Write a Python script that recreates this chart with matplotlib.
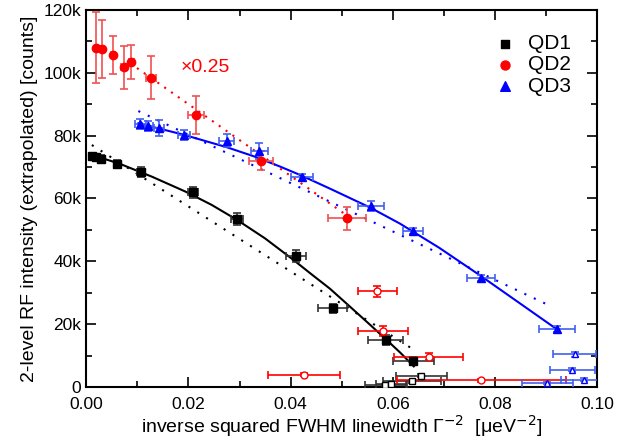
import matplotlib
matplotlib.use("Agg")
import matplotlib.pyplot as plt
from matplotlib.ticker import MultipleLocator, FuncFormatter

plt.rcParams["font.family"] = ["Liberation Sans", "DejaVu Sans"]
plt.rcParams["axes.unicode_minus"] = False

# ---- data (intensity in counts, x in ueV^-2) ----
# QD1 filled
qd1_x    = [0.0011, 0.0020, 0.0029, 0.0060, 0.0107, 0.0209, 0.0295, 0.0410, 0.0482, 0.0586, 0.0640]
qd1_y    = [73.5e3, 73.2e3, 72.6e3, 71.0e3, 68.4e3, 62.0e3, 53.5e3, 41.7e3, 25.1e3, 15.0e3, 8.3e3]
qd1_xerr = [0.0004, 0.0004, 0.0005, 0.0006, 0.0008, 0.0010, 0.0012, 0.0020, 0.0029, 0.0034, 0.0040]
qd1_yerr = [1.0e3, 1.0e3, 1.2e3, 1.2e3, 1.5e3, 1.8e3, 1.8e3, 2.0e3, 1.5e3, 1.5e3, 1.2e3]
# QD1 open
qd1o_x    = [0.0585, 0.0597, 0.0637, 0.0656]
qd1o_y    = [0.6e3, 1.0e3, 1.9e3, 3.6e3]
qd1o_xerr = [0.0040, 0.0030, 0.0057, 0.0050]
qd1o_yerr = [0.3e3, 0.3e3, 0.5e3, 0.5e3]

# QD2 filled (scaled x0.25)
qd2_x    = [0.0020, 0.0031, 0.0052, 0.0073, 0.0088, 0.0127, 0.0215, 0.0342, 0.0511]
qd2_y    = [108.0e3, 107.5e3, 105.7e3, 101.7e3, 103.4e3, 98.4e3, 86.6e3, 72.0e3, 53.7e3]
qd2_xerr = [0.0003, 0.0003, 0.0004, 0.0004, 0.0005, 0.0010, 0.0015, 0.0023, 0.0037]
qd2_yerr = [11.4e3, 9.3e3, 6.0e3, 6.9e3, 5.4e3, 6.9e3, 6.0e3, 3.0e3, 3.7e3]
# QD2 open
qd2o_x    = [0.0426, 0.0570, 0.0580, 0.0670, 0.0773]
qd2o_y    = [4.0e3, 30.5e3, 17.8e3, 9.7e3, 2.2e3]
qd2o_xerr = [0.0070, 0.0039, 0.0049, 0.0068, 0.0165]
qd2o_yerr = [0.5e3, 1.8e3, 1.5e3, 1.2e3, 0.5e3]

# QD3 filled
qd3_x    = [0.0106, 0.0120, 0.0142, 0.0192, 0.0275, 0.0339, 0.0422, 0.0557, 0.0639, 0.0773, 0.0921]
qd3_y    = [83.7e3, 83.1e3, 82.3e3, 80.2e3, 78.4e3, 75.2e3, 66.7e3, 57.6e3, 49.7e3, 34.8e3, 18.4e3]
qd3_xerr = [0.0010, 0.0010, 0.0010, 0.0012, 0.0015, 0.0017, 0.0022, 0.0025, 0.0020, 0.0027, 0.0035]
qd3_yerr = [1.5e3, 1.5e3, 2.5e3, 1.5e3, 2.0e3, 2.5e3, 1.2e3, 1.5e3, 1.0e3, 1.0e3, 1.0e3]
# QD3 open
qd3o_x    = [0.0902, 0.0951, 0.0956, 0.0975]
qd3o_y    = [1.2e3, 5.6e3, 10.4e3, 2.4e3]
qd3o_xerr = [0.0050, 0.0044, 0.0042, 0.0045]
qd3o_yerr = [0.3e3, 0.5e3, 0.8e3, 0.5e3]

# fit curves
fit1_x = [0.0011, 0.0063, 0.0129, 0.0194, 0.0245, 0.0295, 0.0350, 0.0406, 0.0440, 0.0477,
          0.0523, 0.0555, 0.0588, 0.0615, 0.0641]
fit1_y = [73.8e3, 71.2e3, 66.9e3, 62.2e3, 58.0e3, 53.2e3, 47.3e3, 40.4e3, 36.0e3, 31.3e3,
          24.6e3, 19.9e3, 15.0e3, 10.9e3, 6.6e3]
lin1_x = [0.0011, 0.0640]
lin1_y = [77.0e3, 12.0e3]

lin2_x = [0.0086, 0.0511]
lin2_y = [103.0e3, 54.5e3]

fit3_x = [0.0102, 0.0190, 0.0275, 0.0330, 0.0380, 0.0421, 0.0480, 0.0557, 0.0614, 0.0690,
          0.0771, 0.0850, 0.0921]
fit3_y = [83.9e3, 80.3e3, 76.3e3, 73.3e3, 70.1e3, 67.3e3, 62.9e3, 57.0e3, 52.0e3, 44.4e3,
          35.5e3, 26.5e3, 18.4e3]
lin3_x = [0.0102, 0.0911]
lin3_y = [87.8e3, 25.6e3]

# ---- plot ----
fig = plt.figure(figsize=(6.34, 4.45), dpi=100)
ax = fig.add_axes([0.136, 0.130, 0.806, 0.848])

eb = dict(linestyle="none", elinewidth=1.2, capsize=3, capthick=1.2)

# QD1
ax.errorbar(qd1_x, qd1_y, xerr=qd1_xerr, yerr=qd1_yerr, marker="s", ms=5.5,
            color="black", ecolor="#333333", **eb, zorder=4)
ax.errorbar(qd1o_x, qd1o_y, xerr=qd1o_xerr, yerr=qd1o_yerr, marker="s", ms=5,
            color="black", mfc="white", ecolor="#333333", **eb, zorder=4)
ax.plot(fit1_x, fit1_y, color="black", lw=1.5, zorder=3)
ax.plot(lin1_x, lin1_y, color="black", lw=1.5, ls=(0, (1, 4)), zorder=3)

# QD2
ax.errorbar(qd2_x, qd2_y, xerr=qd2_xerr, yerr=qd2_yerr, marker="o", ms=6,
            color="red", ecolor="#f05050", **eb, zorder=4)
ax.errorbar(qd2o_x, qd2o_y, xerr=qd2o_xerr, yerr=qd2o_yerr, marker="o", ms=5,
            color="red", mfc="white", ecolor="red", **eb, zorder=4)
ax.plot(lin2_x, lin2_y, color="red", lw=1.5, ls=(0, (1, 3)), zorder=3)

# QD3
ax.errorbar(qd3_x, qd3_y, xerr=qd3_xerr, yerr=qd3_yerr, marker="^", ms=6,
            color="blue", ecolor="#4060f0", **eb, zorder=4)
ax.errorbar(qd3o_x, qd3o_y, xerr=qd3o_xerr, yerr=qd3o_yerr, marker="^", ms=5,
            color="blue", mfc="white", ecolor="#4060f0", **eb, zorder=4)
ax.plot(fit3_x, fit3_y, color="blue", lw=1.5, zorder=3)
ax.plot(lin3_x, lin3_y, color="blue", lw=1.5, ls=(0, (1, 4)), zorder=3)

ax.text(0.0184, 101.8e3, "×0.25", color="red", fontsize=14, va="center")

# legend
h1 = ax.scatter([], [], marker="s", color="black", s=36)
h2 = ax.scatter([], [], marker="o", color="red", s=42)
h3 = ax.scatter([], [], marker="^", color="blue", s=48)
ax.legend([h1, h2, h3], ["QD1", "QD2", "QD3"], loc="upper right", frameon=False,
          fontsize=15, handletextpad=0.1, labelspacing=0.1, borderaxespad=0.6,
          bbox_to_anchor=(0.99, 0.99))

ax.set_xlim(0, 0.1)
ax.set_ylim(0, 120e3)
ax.xaxis.set_major_locator(MultipleLocator(0.02))
ax.xaxis.set_minor_locator(MultipleLocator(0.01))
ax.yaxis.set_major_locator(MultipleLocator(20e3))
ax.yaxis.set_minor_locator(MultipleLocator(10e3))
ax.xaxis.set_major_formatter(FuncFormatter(lambda v, p: f"{v:.2f}"))
ax.yaxis.set_major_formatter(FuncFormatter(lambda v, p: "0" if v == 0 else f"{v/1e3:.0f}k"))
ax.tick_params(which="both", direction="in", top=True, right=True, labelsize=12.5, width=1.2)
ax.tick_params(which="major", length=7)
ax.tick_params(which="minor", length=4)
ax.tick_params(axis="x", which="major", pad=7)
for s in ax.spines.values():
    s.set_linewidth(1.5)

ax.set_xlabel("inverse squared FWHM linewidth Γ$^{-2}$  [μeV$^{-2}$]", fontsize=14, labelpad=1)
ax.set_ylabel("2-level RF intensity (extrapolated) [counts]", fontsize=14, labelpad=4)

fig.savefig("out.png", dpi=100)
